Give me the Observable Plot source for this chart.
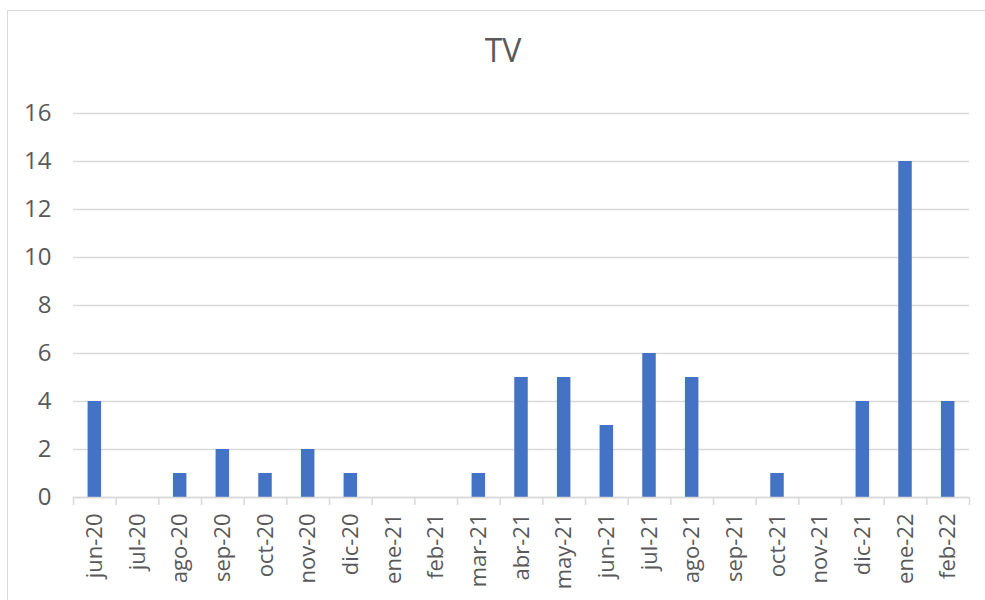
<!DOCTYPE html>
<html>
<head>
<meta charset="utf-8">
<script src="https://cdn.jsdelivr.net/npm/d3@7"></script>
<script src="https://cdn.jsdelivr.net/npm/@observablehq/plot@0.6"></script>
<style>
  html, body { margin: 0; padding: 0; background: #fff; }
  #wrap { position: relative; width: 985px; height: 600px; overflow: hidden; font-family: "Open Sans", sans-serif; }
  #frame { position: absolute; left: 7px; top: 10px; width: 1010px; height: 620px; border: 1.5px solid #d9d9d9; box-sizing: border-box; }
  #title { position: absolute; left: 0; width: 1006px; top: 34px; text-align: center; font-size: 32px; color: #595959; line-height: 1; }
  #chart { position: absolute; left: 0; top: 0; }
</style>
</head>
<body>
<div id="wrap">
  <div id="frame"></div>
  <div id="title">TV</div>
  <div id="chart"></div>
</div>
<script>
const months = ["jun-20","jul-20","ago-20","sep-20","oct-20","nov-20","dic-20","ene-21","feb-21","mar-21","abr-21","may-21","jun-21","jul-21","ago-21","sep-21","oct-21","nov-21","dic-21","ene-22","feb-22"];
const values = [4,0,1,2,1,2,1,0,0,1,5,5,3,6,5,0,1,0,4,14,4];
const yTicks = [0,2,4,6,8,10,12,14,16];

const data = months.map((m, i) => ({month: m, value: values[i]}));

const width = 985, height = 600;
const marginLeft = 73, marginRight = 16, marginTop = 113, marginBottom = 103;
const step = (width - marginLeft - marginRight) / months.length;
const barW = 13.5;
const inset = (step - barW) / 2;
const gray = "#d9d9d9", textColor = "#595959";

const chart = Plot.plot({
  width, height, marginLeft, marginRight, marginTop, marginBottom,
  style: {fontFamily: "'Open Sans', sans-serif", fontSize: "22px", color: textColor, background: "transparent"},
  x: {domain: months, padding: 0, round: false, label: null},
  y: {domain: [0, 16], label: null},
  marks: [
    Plot.gridY(yTicks, {stroke: gray, strokeOpacity: 1, strokeWidth: 1.5}),
    Plot.barY(data, {x: "month", y: "value", fill: "#4472C4", insetLeft: inset, insetRight: inset}),
    Plot.ruleY([0], {stroke: gray, strokeWidth: 1.5}),
    Plot.axisY({ticks: yTicks, tickSize: 0, tickPadding: 22, fontSize: 24, fill: textColor, label: null}),
    Plot.axisX({tickSize: 0, tickPadding: 16, tickRotate: -90, fontSize: 22, fill: textColor, label: null}),
    Plot.axisX({tickSize: 8, stroke: gray, strokeWidth: 1.5, dx: -step / 2, tickFormat: () => "", label: null}),
    Plot.axisX({ticks: [months[months.length - 1]], tickSize: 8, stroke: gray, strokeWidth: 1.5, dx: step / 2, tickFormat: () => "", label: null})
  ]
});
document.getElementById("chart").appendChild(chart);
</script>
</body>
</html>
